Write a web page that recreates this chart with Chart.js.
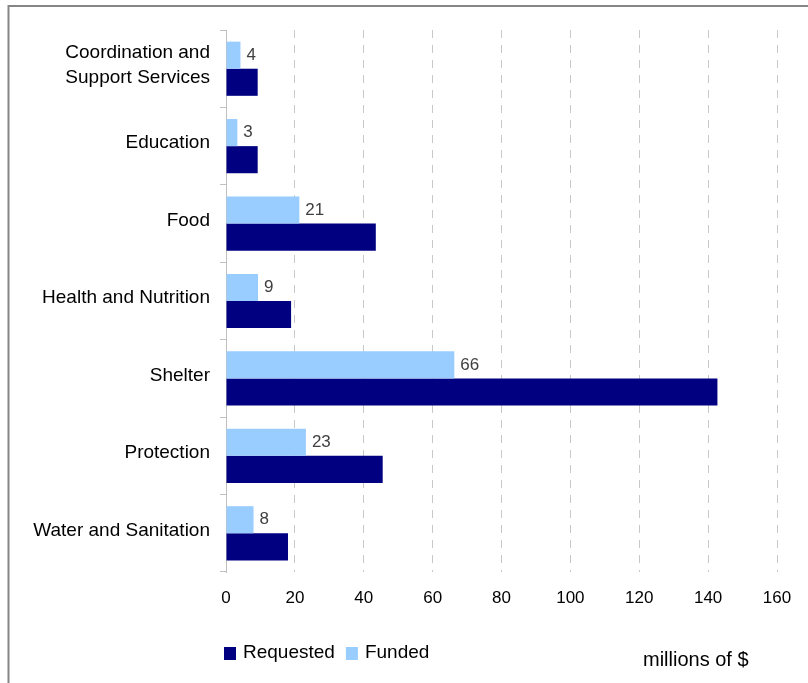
<!DOCTYPE html>
<html>
<head>
<meta charset="utf-8">
<script src="https://cdn.jsdelivr.net/npm/chart.js@4.4.0/dist/chart.umd.min.js"></script>
<style>
  html, body { margin: 0; padding: 0; background: #fff; overflow: hidden; }
  #wrap { width: 808px; height: 683px; position: relative; }
</style>
</head>
<body>
<div id="wrap"><canvas id="fundChart"></canvas></div>
<script>
// chart data
const categories = [
  ['Coordination and', 'Support Services'],
  'Education',
  'Food',
  'Health and Nutrition',
  'Shelter',
  'Protection',
  'Water and Sanitation'
];
const requested = [9.2, 9.2, 43.5, 18.9, 142.7, 45.5, 18.0];
const funded = [4.2, 3.3, 21.3, 9.3, 66.3, 23.2, 8.0];
const xTicks = [0, 20, 40, 60, 80, 100, 120, 140, 160];
const unitLabel = 'millions of $';

const FONT = '"Liberation Sans", Arial, sans-serif';

// frame, value labels, legend and unit text
const extras = {
  id: 'extras',
  beforeDraw(chart) {
    const c = chart.ctx;
    c.save();
    c.fillStyle = '#fff';
    c.fillRect(0, 0, chart.width, chart.height);
    c.strokeStyle = '#868686';
    c.lineWidth = 2;
    c.beginPath();
    c.moveTo(8.5, chart.height + 5);
    c.lineTo(8.5, 6);
    c.lineTo(chart.width + 5, 6);
    c.stroke();
    c.restore();
  },
  afterDatasetsDraw(chart) {
    const c = chart.ctx;
    const meta = chart.getDatasetMeta(0);
    c.save();
    c.font = '17px ' + FONT;
    c.fillStyle = '#404040';
    c.textAlign = 'left';
    c.textBaseline = 'middle';
    meta.data.forEach((bar, i) => {
      c.fillText(String(Math.round(funded[i])), bar.x + 6, bar.y);
    });
    c.restore();
  },
  afterDraw(chart) {
    const c = chart.ctx;
    c.save();
    c.font = '19px ' + FONT;
    c.textBaseline = 'middle';
    c.textAlign = 'left';
    // legend: Requested first, then Funded
    const order = [1, 0];
    let x = 224;
    const y = 653;
    order.forEach(idx => {
      const ds = chart.data.datasets[idx];
      c.fillStyle = ds.backgroundColor;
      c.fillRect(x, y - 6, 12, 13);
      c.fillStyle = '#000';
      c.fillText(ds.label, x + 19, y);
      x += 19 + c.measureText(ds.label).width + 11;
    });
    c.font = '20px ' + FONT;
    c.fillText(unitLabel, 643, 660);
    c.restore();
  }
};

new Chart(document.getElementById('fundChart'), {
  type: 'bar',
  data: {
    labels: categories,
    datasets: [
      {
        label: 'Funded',
        data: funded,
        backgroundColor: '#99ccff',
        categoryPercentage: 0.7,
        barPercentage: 1.0
      },
      {
        label: 'Requested',
        data: requested,
        backgroundColor: '#000080',
        categoryPercentage: 0.7,
        barPercentage: 1.0
      }
    ]
  },
  options: {
    indexAxis: 'y',
    responsive: true,
    maintainAspectRatio: false,
    animation: false,
    layout: { padding: { top: 30, right: 31, bottom: 0, left: 0 } },
    plugins: {
      legend: { display: false },
      tooltip: { enabled: false }
    },
    scales: {
      x: {
        min: 0,
        max: 160,
        afterBuildTicks: (scale) => {
          scale.ticks = xTicks.map(v => ({ value: v }));
        },
        afterFit: (scale) => { scale.height = 111; },
        grid: {
          color: '#c8c8c8',
          lineWidth: 1,
          drawTicks: false
        },
        border: { display: false, dash: [8, 7] },
        ticks: {
          color: '#000',
          font: { family: FONT, size: 17 },
          padding: 16,
          maxRotation: 0
        }
      },
      y: {
        afterFit: (scale) => { scale.width = 226; },
        grid: {
          drawOnChartArea: false,
          drawTicks: true,
          tickLength: 6,
          color: '#c0c0c0'
        },
        border: { display: true, color: '#c0c0c0', width: 1 },
        ticks: {
          color: '#000',
          font: { family: FONT, size: 19, lineHeight: 1.32 },
          padding: 10,
          labelOffset: -3
        }
      }
    }
  },
  plugins: [extras]
});
</script>
</body>
</html>
